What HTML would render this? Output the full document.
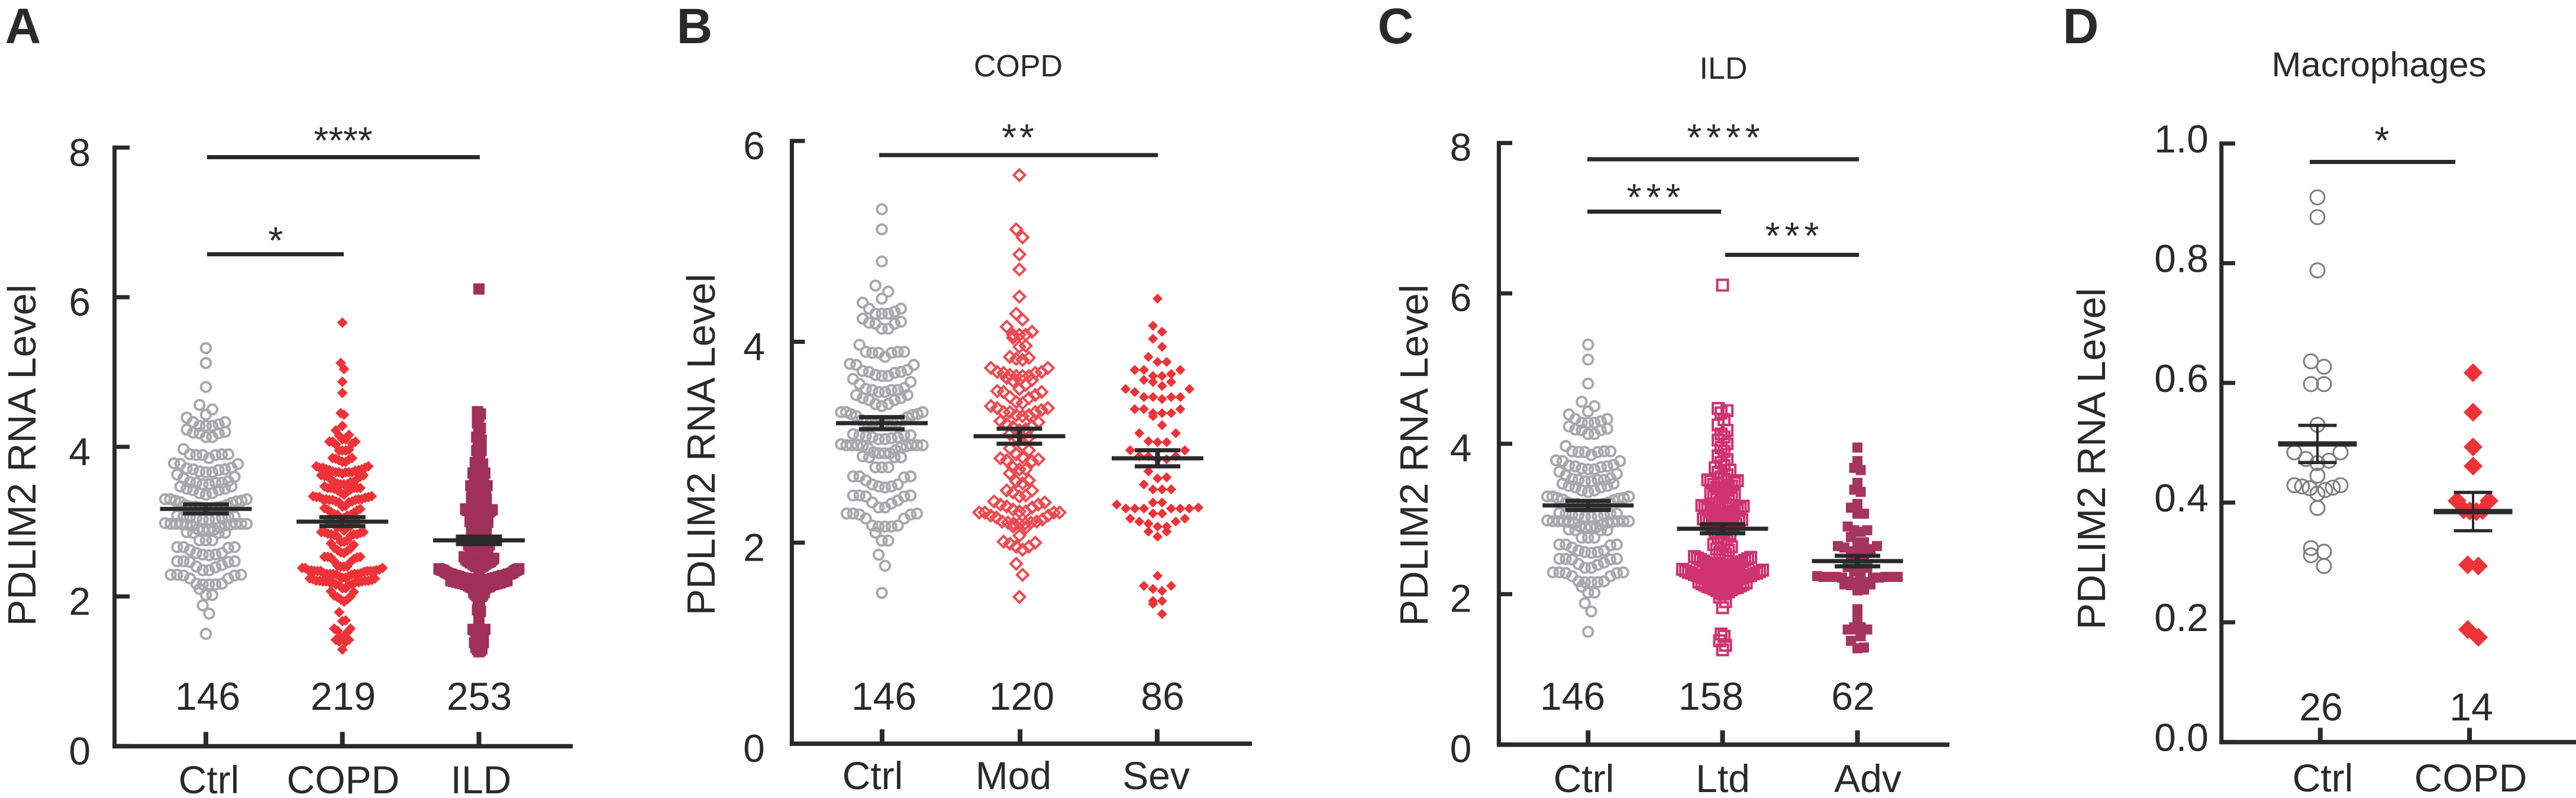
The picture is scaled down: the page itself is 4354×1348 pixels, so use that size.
<!DOCTYPE html>
<html lang="en">
<head>
<meta charset="utf-8">
<title>PDLIM2 RNA Level</title>
<style>
html,body{margin:0;padding:0;background:#fff;}
svg{display:block;}
text{font-family:"Liberation Sans",Arial,sans-serif;fill:#2a2a2a;}
.tick{font-size:66px;text-anchor:middle;}
.ytitle{font-size:67px;text-anchor:middle;}
.letter{font-size:84px;font-weight:bold;text-anchor:middle;}
.title{font-size:52px;text-anchor:middle;}
.star{font-size:64px;text-anchor:middle;}
</style>
</head>
<body>
<svg id="fig" xmlns="http://www.w3.org/2000/svg" width="4354" height="1348" viewBox="0 0 4354 1348">
<rect x="0" y="0" width="4354" height="1348" fill="#fff"/>

<text class="letter" x="39" y="73">A</text>
<text class="letter" x="1174" y="73">B</text>
<text class="letter" x="2359" y="73">C</text>
<text class="letter" x="3517" y="73">D</text>

<text class="title" x="1721" y="129">COPD</text>
<text class="title" x="2913" y="133">ILD</text>
<text class="title" x="4021" y="129" style="font-size:58px" textLength="363" lengthAdjust="spacingAndGlyphs">Macrophages</text>

<text class="ytitle" transform="translate(60,769) rotate(-90)">PDLIM2 RNA Level</text>
<text class="ytitle" transform="translate(1208,751) rotate(-90)">PDLIM2 RNA Level</text>
<text class="ytitle" transform="translate(2413,769) rotate(-90)">PDLIM2 RNA Level</text>
<text class="ytitle" transform="translate(3558,775) rotate(-90)">PDLIM2 RNA Level</text>

<g fill="#2a2a2a">
<rect x="350" y="262" width="461" height="7"/>
<rect x="350" y="426" width="231" height="7"/>
<rect x="1486" y="258.500" width="471" height="7"/>
<rect x="2683" y="265.500" width="459" height="7"/>
<rect x="2683" y="354" width="226" height="7"/>
<rect x="2916" y="427" width="226" height="7"/>
<rect x="3904" y="270" width="246" height="7"/>
</g>
<text class="star" x="580" y="259">****</text>
<text class="star" x="466" y="428">*</text>
<text class="star" x="1723" y="254" letter-spacing="5">**</text>
<text class="star" x="2917" y="254" letter-spacing="8">****</text>
<text class="star" x="2799" y="355" letter-spacing="8">***</text>
<text class="star" x="3033" y="420" letter-spacing="8">***</text>
<text class="star" x="4026" y="259">*</text>
</svg>

<script>
// ---------- values ----------
const ctrlValues = [5.32,5.12,4.80,4.56,4.50,4.43,4.39,
4.33,4.33,4.30,4.28,4.28,4.28,
4.23,4.20,4.19,4.18,4.18,4.13,4.13,
3.97,3.90,3.90,3.90,3.89,3.89,3.89,3.85,
3.78,3.77,3.77,3.72,3.71,3.70,3.70,3.69,3.67,3.66,3.66,3.63,
3.60,3.58,3.54,3.53,3.52,3.52,3.52,3.50,3.50,3.47,3.47,3.44,3.44,3.42,3.42,
3.38,3.38,3.36,3.30,3.30,3.30,3.28,3.28,3.27,3.26,3.25,
3.22,3.22,3.20,3.20,3.20,3.19,3.19,3.18,3.18,
3.08,3.07,3.07,3.07,3.06,3.05,3.05,3.04,3.03,3.03,
2.98,2.97,2.97,2.97,2.97,2.97,2.97,2.96,2.96,2.95,2.94,
2.92,2.90,2.89,2.89,2.89,2.86,2.85,2.85,2.85,
2.75,2.75,2.75,
2.66,2.66,2.66,2.65,2.62,2.58,2.58,2.56,2.56,2.55,
2.47,2.47,2.47,2.46,2.46,2.42,2.40,2.39,2.35,2.35,
2.29,2.29,2.29,2.28,2.28,2.24,2.24,2.17,2.17,2.16,2.16,2.16,
2.10,2.02,2.02,1.88,1.77,1.50];

const modValues = [5.66,5.12,5.04,4.87,4.72,4.45,4.28,4.22,4.15,4.10,4.07,4.07,4.04,4.07,3.96,3.95,3.85,3.83,3.84,3.82,
3.74,3.74,3.70,3.67,3.70,3.69,3.69,3.66,3.66,3.66,3.64,3.62,3.61,3.57,3.50,3.53,3.50,3.51,3.47,3.45,3.44,3.40,3.39,3.36,3.34,3.34,3.32,3.30,3.30,3.30,3.27,3.27,3.26,3.21,3.15,3.16,3.20,3.18,3.12,3.13,
3.08,3.05,3.05,2.97,2.94,2.92,2.88,2.85,2.83,2.84,2.81,2.82,2.75,2.73,2.73,2.69,2.62,2.61,2.59,2.52,2.52,2.50,2.46,2.47,2.41,
2.40,2.38,2.35,2.38,2.36,2.33,2.31,2.30,2.31,2.30,2.30,2.30,2.27,2.23,2.25,2.27,2.21,2.21,2.19,2.20,2.19,2.19,2.20,2.15,2.16,
2.07,2.01,2.00,1.99,1.93,1.96,1.96,1.79,1.68,1.46];

const sevValues = [4.43,4.16,4.10,4.03,3.95,3.85,3.80,3.80,3.72,3.72,3.72,3.68,3.66,3.66,3.62,3.60,3.60,3.56,3.53,3.53,3.50,
3.45,3.45,3.45,3.45,3.43,3.33,3.33,3.33,3.29,3.29,3.29,3.26,3.17,3.09,3.09,3.01,3.00,3.00,2.92,2.92,2.86,2.86,2.86,2.83,2.83,
2.71,2.65,2.64,2.58,2.53,2.53,2.53,2.40,2.40,2.38,2.35,2.34,2.34,2.34,2.34,2.34,2.34,2.29,2.29,2.24,2.24,2.21,2.21,2.19,2.16,2.16,2.11,2.11,2.06,
1.67,1.57,1.57,1.54,1.52,1.42,1.42,1.39,1.29];

const copdExtraValues = [3.95,3.42,3.30,3.10,3.00,2.80,2.35,2.30,2.25,2.22,2.20,1.45,1.40];

const ltdValues = [6.11,4.47,4.44,4.41,4.32,4.25,4.18,4.13,4.09,4.05,4.00,3.95,3.90,3.84,3.79,3.75,3.71,
3.68,3.65,3.62,3.59,3.56,3.53,
3.52,3.51,3.50,3.48,3.46,3.44,3.42,3.41,3.40,3.38,3.36,
3.34,3.32,3.30,3.28,3.26,3.24,3.22,3.20,3.19,
3.18,3.17,3.16,3.15,3.13,3.12,3.11,3.10,3.09,3.08,3.06,3.05,3.04,3.03,3.02,
3.00,2.99,2.98,2.97,2.95,2.93,2.92,2.90,2.89,2.88,2.87,2.86,2.85,2.85,
2.83,2.80,2.76,2.73,2.70,2.68,
2.66,2.63,2.60,2.58,2.55,2.53,2.51,
2.50,2.49,2.48,2.47,2.46,2.45,2.44,2.43,2.42,2.41,2.40,2.40,2.39,2.38,2.37,2.37,2.36,2.35,2.35,2.34,
2.33,2.32,2.31,2.30,2.29,2.28,2.28,2.27,2.26,2.25,2.25,2.24,2.24,2.23,2.22,2.22,2.21,2.21,2.20,2.20,2.19,2.19,2.18,2.18,2.18,2.17,2.17,2.17,
2.16,2.15,2.14,2.13,2.12,2.11,2.10,2.09,2.09,2.08,2.07,2.06,2.05,2.03,2.02,2.01,2.00,
1.96,1.90,1.82,1.47,1.44,1.38,1.32,1.26];

const advValues = [3.95,3.77,3.68,3.65,3.48,3.39,3.36,3.20,3.15,3.07,3.07,2.90,2.85,2.85,2.83,2.76,2.69,2.69,2.64,2.64,2.62,2.60,2.57,2.57,2.57,2.47,2.45,2.43,2.36,2.35,2.30,2.28,2.24,2.23,2.23,2.23,2.23,2.23,2.23,2.22,2.22,2.22,2.17,2.16,2.16,2.16,2.13,2.13,2.12,2.06,2.05,1.80,1.69,1.56,1.56,1.53,1.53,1.53,1.44,1.38,1.29,1.28];

const ildExtraValues = [3.30,3.15,3.05,2.45,2.40,2.32,2.31,2.30,2.30,2.29,2.28,2.28,2.27,2.27,2.26,2.26,2.25,2.25,2.24,2.24,2.23,2.23,2.22,2.22,2.21,2.21,2.20,2.20,2.19,2.18,2.08,1.55,1.30];

const macCtrlValues = [.910,.877,.788,.636,.627,.598,.598,.530,.484,.484,.473,.470,.466,.445,.429,.429,.427,.425,.424,.421,.415,.391,.324,.318,.312,.294];
const macCopdValues = [.617,.551,.493,.461,.403,.403,.388,.387,.386,.385,.296,.294,.188,.175];

const copdAllValues = modValues.concat(sevValues, copdExtraValues);
const ildAllValues = ltdValues.concat(advValues, ildExtraValues);

const panelACategories = ["Ctrl","COPD","ILD"];
const panelACounts = ["146","219","253"];
const panelAMeans = [3.17,3.00,2.75];
const panelASems = [0.06,0.06,0.05];
const panelATickLabels = ["0","2","4","6","8"];
const panelATickValues = [0,2,4,6,8];

const panelBCategories = ["Ctrl","Mod","Sev"];
const panelBCounts = ["146","120","86"];
const panelBMeans = [3.19,3.06,2.84];
const panelBSems = [0.06,0.075,0.08];
const panelBTickLabels = ["0","2","4","6"];
const panelBTickValues = [0,2,4,6];

const panelCCategories = ["Ctrl","Ltd","Adv"];
const panelCCounts = ["146","158","62"];
const panelCMeans = [3.18,2.87,2.44];
const panelCSems = [0.06,0.06,0.07];
const panelCTickLabels = ["0","2","4","6","8"];
const panelCTickValues = [0,2,4,6,8];

const panelDCategories = ["Ctrl","COPD"];
const panelDCounts = ["26","14"];
const panelDMeans = [0.498,0.385];
const panelDSems = [0.031,0.032];
const panelDTickLabels = ["0.0","0.2","0.4","0.6","0.8","1.0"];
const panelDTickValues = [0,0.2,0.4,0.6,0.8,1.0];

// ---------- styling and layout ----------
const GRAY = "#a8a8ac", RED = "#ee3338", MOD = "#ee4a50", ILD = "#a03158", LTD = "#cf3370", ADV = "#a5345e";
const INK = "#2a2a2a";

const panels = [
 {id:"a", axisX:193.6, y0:1260.3, yTop:249.3, yMax:8, xEnd:968, tickEnd:219, tickLabelX:134.7, tickLabelDy:31,
  ticks:[348,578.7,809.5], marksX:[348,578.7,809.5], catX:[353,580,813], countX:[351,580,810], countY:1199, catY:1340,
  barHalf:77.5, capHalf:39, barH:7, capH:7, stemW:8,
  cats:panelACategories, counts:panelACounts, means:panelAMeans, sems:panelASems, tl:panelATickLabels, tv:panelATickValues,
  series:[
   {name:"ctrl", values:ctrlValues, shape:"circle", color:GRAY, size:8.2, sw:4, bin:.13, step:10.8, maxHalf:69},
   {name:"copd", values:copdAllValues, shape:"diamond", color:RED, size:9, bin:.14, step:5.5, maxHalf:68},
   {name:"ild", values:ildAllValues, shape:"square", color:ILD, size:9.5, bin:.15, step:2.5, maxHalf:68}
  ]},
 {id:"b", axisX:1338.4, y0:1256, yTop:238.1, yMax:6, xEnd:2116, tickEnd:1360.4, tickLabelX:1274.5, tickLabelDy:31,
  ticks:[1490.9,1724.1,1955.9], marksX:[1490.5,1723,1956.5], catX:[1475,1713,1954], countX:[1494,1727,1965], countY:1199, catY:1333,
  barHalf:77.5, capHalf:38.5, barH:7, capH:7, stemW:8,
  cats:panelBCategories, counts:panelBCounts, means:panelBMeans, sems:panelBSems, tl:panelBTickLabels, tv:panelBTickValues,
  series:[
   {name:"ctrl", values:ctrlValues, shape:"circle", color:GRAY, size:8.2, sw:4, bin:.13, step:10.8, maxHalf:69},
   {name:"mod", values:modValues, shape:"diamond-open", color:MOD, size:9.5, sw:4, bin:.12, step:10.7, maxHalf:68},
   {name:"sev", values:sevValues, shape:"diamond", color:RED, size:8.5, bin:.1, step:15.4, maxHalf:69}
  ]},
 {id:"c", axisX:2533.4, y0:1257.7, yTop:241.6, yMax:8, xEnd:3295, tickEnd:2556, tickLabelX:2469, tickLabelDy:30,
  ticks:[2684.2,2911.5,3139.5], marksX:[2684.2,2911.5,3139.5], catX:[2677,2912,3157], countX:[2658,2892,3132], countY:1199, catY:1338,
  barHalf:77, capHalf:38.5, barH:7, capH:7, stemW:8,
  cats:panelCCategories, counts:panelCCounts, means:panelCMeans, sems:panelCSems, tl:panelCTickLabels, tv:panelCTickValues,
  series:[
   {name:"ctrl", values:ctrlValues, shape:"circle", color:GRAY, size:8.2, sw:4, bin:.13, step:10.8, maxHalf:69},
   {name:"ltd", values:ltdValues, shape:"square-open", color:LTD, size:9, sw:4, bin:.165, step:5, maxHalf:68},
   {name:"adv", values:advValues, shape:"square", color:ADV, size:8.5, bin:.1, step:11, maxHalf:68}
  ]},
 {id:"d", axisX:3754.7, y0:1253.4, yTop:242.4, yMax:1, xEnd:4354, tickEnd:3778, tickLabelX:3687, tickLabelDy:15,
  ticks:[3921.8,4174], marksX:[3917,4180], catX:[3926,4176], countX:[3923,4177], countY:1217, catY:1337,
  barHalf:66.5, capHalf:32.5, barH:9, capH:5.5, stemW:4,
  cats:panelDCategories, counts:panelDCounts, means:panelDMeans, sems:panelDSems, tl:panelDTickLabels, tv:panelDTickValues,
  series:[
   {name:"ctrl", values:macCtrlValues, shape:"circle", color:"#7f7f7f", size:12, sw:3, bin:.02, step:22, maxHalf:39},
   {name:"copd", values:macCopdValues, shape:"diamond", color:RED, size:16, bin:.02, step:18, maxHalf:27}
  ]}
];

const svg = document.getElementById("fig");
const NS = "http://www.w3.org/2000/svg";

function el(parent, tag, attrs){
  const e = document.createElementNS(NS, tag);
  for (const k in attrs) e.setAttribute(k, attrs[k]);
  parent.appendChild(e);
  return e;
}

// axis function: data value -> vertical pixel
function yScale(p){
  return v => p.y0 - (v / p.yMax) * (p.y0 - p.yTop);
}

// swarm layout: group sorted values into rows, spread each row around the category centre
function swarm(values, bin, step, maxHalf){
  const sorted = values.slice().sort((a,b) => a - b);
  const out = [];
  let i = 0;
  while (i < sorted.length){
    let j = i;
    while (j < sorted.length && sorted[j] - sorted[i] <= bin) j++;
    const n = j - i;
    const s = n > 1 ? Math.min(step, maxHalf / ((n - 1) / 2)) : step;
    for (let k = 0; k < n; k++){
      let off;
      if (n % 2 === 1){
        const m = Math.ceil(k / 2);
        off = (k % 2 === 1 ? m : -m) * s;
      } else {
        const m = Math.floor(k / 2) + 0.5;
        off = (k % 2 === 0 ? m : -m) * s;
      }
      out.push({v: sorted[i + k], off: off});
    }
    i = j;
  }
  return out;
}

function drawMark(g, s, cx, cy){
  const r = s.size;
  let m;
  if (s.shape === "circle"){
    m = el(g, "circle", {cx:cx, cy:cy, r:r, fill:"none", stroke:s.color, "stroke-width":s.sw});
  } else if (s.shape === "diamond"){
    m = el(g, "polygon", {points:[cx,cy-r,cx+r,cy,cx,cy+r,cx-r,cy].join(" "), fill:s.color});
  } else if (s.shape === "diamond-open"){
    m = el(g, "polygon", {points:[cx,cy-r,cx+r,cy,cx,cy+r,cx-r,cy].join(" "), fill:"none", stroke:s.color, "stroke-width":s.sw});
  } else if (s.shape === "square"){
    m = el(g, "rect", {x:cx-r, y:cy-r, width:2*r, height:2*r, fill:s.color});
  } else {
    m = el(g, "rect", {x:cx-r, y:cy-r, width:2*r, height:2*r, fill:"none", stroke:s.color, "stroke-width":s.sw});
  }
  
  
}

function drawPanel(p){
  const y = yScale(p);
  const g = el(svg, "g", {});
  
  

  // series marks
  p.series.forEach((s, i) => {
    const sg = el(g, "g", {});
    
    
    swarm(s.values, s.bin, s.step, s.maxHalf).forEach(pt => {
      drawMark(sg, s, p.marksX[i] + pt.off, y(pt.v));
    });
  });

  // mean and SEM
  p.means.forEach((mean, i) => {
    const cx = p.marksX[i];
    const sem = p.sems[i];
    const mg = el(g, "g", {fill:INK});
    
    
    const stem = el(mg, "rect", {x:cx-p.stemW/2, y:y(mean+sem), width:p.stemW, height:y(mean-sem)-y(mean+sem)});
    
    
    const bar = el(mg, "rect", {x:cx-p.barHalf, y:y(mean)-p.barH/2, width:2*p.barHalf, height:p.barH});
    
    
    const capHi = el(mg, "rect", {x:cx-p.capHalf, y:y(mean+sem)-p.capH/2, width:2*p.capHalf, height:p.capH});
    
    
    const capLo = el(mg, "rect", {x:cx-p.capHalf, y:y(mean-sem)-p.capH/2, width:2*p.capHalf, height:p.capH});
    
    
  });

  // axes
  const yAxis = el(g, "rect", {x:p.axisX-3.5, y:p.yTop-3.5, width:7, height:p.y0-p.yTop+7, fill:INK});
  
  
  const xAxis = el(g, "rect", {x:p.axisX-3.5, y:p.y0-3.5, width:p.xEnd-p.axisX+3.5, height:7.5, fill:INK});
  
  

  p.tv.forEach((v, i) => {
    const ty = y(v);
    const t = el(g, "rect", {x:p.axisX, y:ty-3.5, width:p.tickEnd-p.axisX, height:7, fill:INK});
    
    
    const lab = el(g, "text", {"class":"tick", x:p.tickLabelX, y:ty+p.tickLabelDy});
    lab.textContent = p.tl[i];
    
    
  });

  p.ticks.forEach((tx, i) => {
    const t = el(g, "rect", {x:tx-4, y:p.y0-24, width:8, height:24, fill:INK});
    
    
    const cat = el(g, "text", {"class":"tick", x:p.catX[i], y:p.catY});
    cat.textContent = p.cats[i];
    
    
    const cnt = el(g, "text", {"class":"tick", x:p.countX[i], y:p.countY});
    cnt.textContent = p.counts[i];
    
    
  });
}

panels.forEach(drawPanel);
</script>
</body>
</html>
